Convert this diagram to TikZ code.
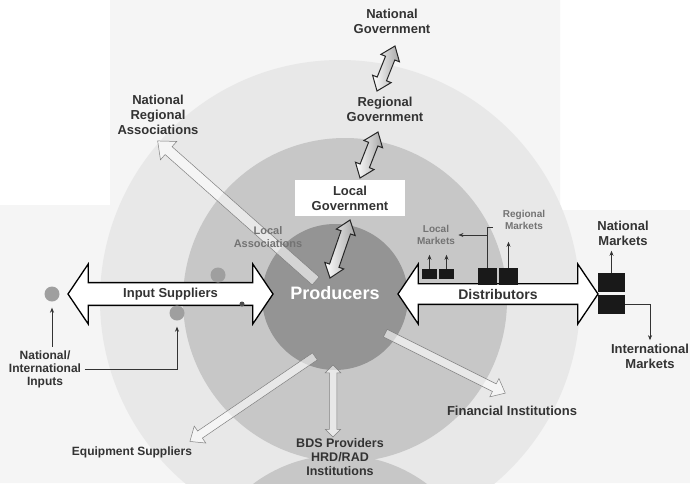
\documentclass[tikz,border=0pt]{standalone}
\usepackage{fontspec}
\setmainfont{Liberation Sans}
\usetikzlibrary{arrows.meta, shapes.arrows, calc, positioning}

% arrow shape laid from #1 (tail) to #2 (tip)
\newcommand{\flecha}[3]{%
  \path let \p1=(#1), \p2=(#2), \n1={atan2(\y2-\y1,\x2-\x1)},
    \n2={veclen(\x2-\x1,\y2-\y1)} in
    node[#3, rotate=\n1, minimum height=\n2] at ($(#1)!0.5!(#2)$) {};%
}

\begin{document}
\begin{tikzpicture}[x=1pt, y=-1pt,
    lbl/.style={font=\bfseries\fontsize{13}{15}\selectfont, text=black!80, align=center},
    sml/.style={font=\bfseries\fontsize{10}{12}\selectfont, text=black!55, align=center},
    govarrow/.style={double arrow, draw=black!85, line width=1pt, left color=white,
      right color=gray!70, inner xsep=0pt, inner ysep=4.5pt,
      double arrow head extend=5pt, double arrow tip angle=75},
    bigarrow/.style={double arrow, draw=black, line width=1.3pt, fill=white,
      minimum width=60pt, double arrow head extend=11pt, double arrow tip angle=112,
      inner sep=0pt},
    thinarrow/.style={single arrow, draw=black!50, line width=0.5pt, fill=white,
      fill opacity=0.6, draw opacity=1, inner xsep=0pt, inner ysep=4pt,
      single arrow head extend=6pt, single arrow tip angle=80},
    supdot/.style={circle, fill=gray!75, minimum size=15pt, inner sep=0pt},
    blk/.style={fill=black!90, inner sep=0pt},
    ptr/.style={draw=black!80, line width=0.6pt, -{Stealth[length=5pt,width=4pt]}}]
  \useasboundingbox (0,0) rectangle (690,483);
  \fill[white] (0,0) rectangle (690,483);
  \fill[black!4] (110,0) -- (560,0) -- (560,210) -- (690,210) -- (690,483)
    -- (0,483) -- (0,205) -- (110,205) -- cycle;

  % rings
  \fill[black!9] (340,300) circle[radius=240pt];
  \fill[black!22] (345,300) circle[radius=162pt];
  \fill[black!22] (340,600) circle[radius=145pt];
  \fill[black!42] (335,297) circle[radius=73pt];

  % government
  \node[lbl] (natgov) at (392,21) {National\\Government};
  \node[lbl] (reggov) at (385,109) {Regional\\Government};
  \node[lbl, fill=white, minimum width=110pt, minimum height=36pt] (locgov) at (350,198) {Local\\Government};
  \coordinate (ng1) at (395,46);  \coordinate (rg1) at (377,91);
  \coordinate (rg2) at (378,132); \coordinate (lg1) at (360,178);
  \coordinate (lg2) at (350,220); \coordinate (pr1) at (330,278);
  \flecha{ng1}{rg1}{govarrow}
  \flecha{rg2}{lg1}{govarrow}
  \flecha{lg2}{pr1}{govarrow}

  % associations
  \node[lbl] (nra) at (158,115) {National\\Regional\\Associations};
  \coordinate (pr2) at (318,283); \coordinate (as1) at (160,143);
  \flecha{pr2}{as1}{thinarrow, inner ysep=5pt, single arrow head extend=7pt}
  \node[sml, font=\bfseries\fontsize{11}{13}\selectfont] (locass) at (268,237) {Local\\Associations};

  \node[font=\bfseries\fontsize{18}{20}\selectfont, text=white] (prod) at (335,293) {Producers};

  % input side
  \node[bigarrow, minimum height=205pt, font=\bfseries\fontsize{13}{15}\selectfont, text=black!80]
    (inpsup) at (170.5,294) {Input Suppliers};
  \node[supdot] (dA) at (52,294) {};
  \node[supdot] (dB) at (177,313) {};
  \node[supdot] (dC) at (218,275) {};
  \fill[black!70] (242,304) circle[radius=2.5pt];
  \node[lbl, font=\bfseries\fontsize{12}{13}\selectfont] (natinp) at (45,369) {National/\\International\\Inputs};
  \draw[ptr] (dA |- natinp.north) -- ([yshift=-6pt]dA.south);
  \draw[ptr] (natinp.east) -| ([yshift=-6pt]dB.south);

  % distributors side
  \node[bigarrow, minimum height=200pt, font=\bfseries\fontsize{14}{16}\selectfont, text=black!80]
    (dist) at (498,294) {Distributors};
  \node[blk, minimum width=15pt, minimum height=10pt] (sb1) at (429.5,274) {};
  \node[blk, minimum width=15pt, minimum height=10pt] (sb2) at (446.5,274) {};
  \node[blk, minimum width=19pt, minimum height=17pt] (lb1) at (487.5,276.5) {};
  \node[blk, minimum width=19pt, minimum height=17pt] (lb2) at (508.5,276.5) {};
  \node[sml] (lmk) at (436,235) {Local\\Markets};
  \node[sml] (rmk) at (524,220) {Regional\\Markets};
  \foreach \b in {sb1, sb2}
    \draw[ptr] (\b.north) -- ++(0,-14);
  \draw[draw=black!80, line width=0.6pt] (lb1.north) -- ++(0,-41) -- ++(5,0);
  \draw[ptr] (lb1.north |- lmk.east) -- (lmk.east);
  \draw[ptr] (lb2.north) -- ++(0,-26);

  \node[blk, minimum width=27pt, minimum height=19pt] (nb1) at (611.5,282.5) {};
  \node[blk, minimum width=27pt, minimum height=19pt] (nb2) at (611.5,304.5) {};
  \node[lbl] (natm) at (623,233) {National\\Markets};
  \node[lbl] (intm) at (650,356) {International\\Markets};
  \draw[ptr] (nb1.north) -- ++(0,-22);
  \draw[ptr] (nb2.east) -| (intm.north);

  % support services
  \node[lbl, font=\bfseries\fontsize{12}{14}\selectfont] (equip) at (132,452) {Equipment Suppliers};
  \node[lbl, font=\bfseries\fontsize{12.5}{14}\selectfont] (bds) at (340,457) {BDS Providers\\HRD/RAD\\Institutions};
  \node[lbl] (fin) at (512,411) {Financial Institutions};
  \coordinate (pr3) at (317,355); \coordinate (eq1) at (192,440);
  \coordinate (pr4) at (383,332); \coordinate (fi1) at (503,392);
  \coordinate (pr5) at (333,365); \coordinate (bd1) at (333,437);
  \flecha{pr3}{eq1}{thinarrow}
  \flecha{pr4}{fi1}{thinarrow}
  \flecha{pr5}{bd1}{thinarrow, double arrow, inner ysep=3.5pt, double arrow head extend=4pt}
\end{tikzpicture}
\end{document}
